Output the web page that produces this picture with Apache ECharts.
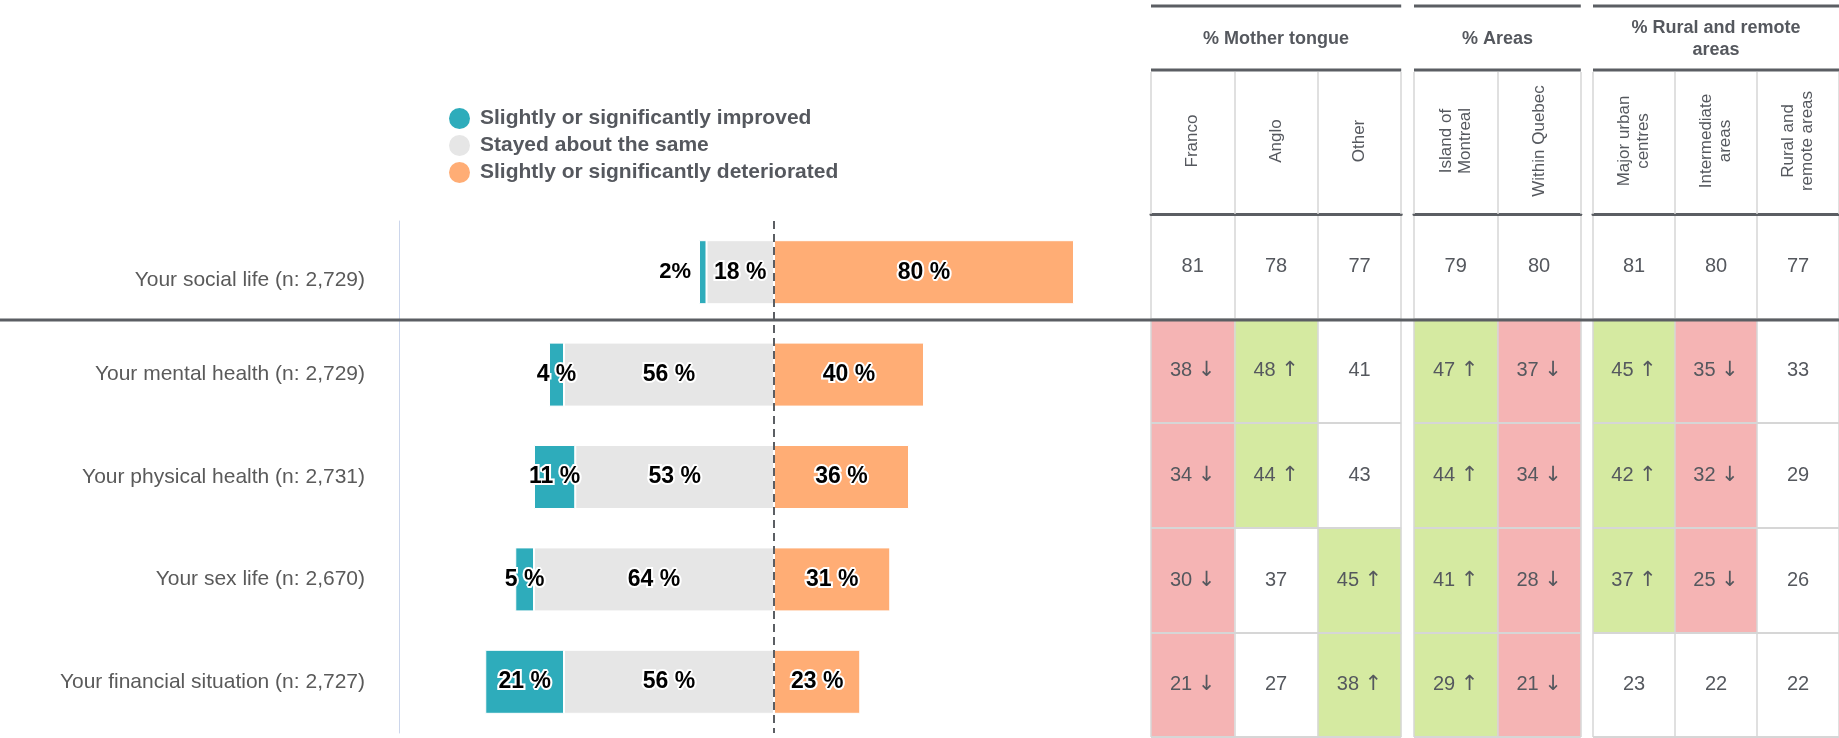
<!DOCTYPE html>
<html>
<head>
<meta charset="utf-8">
<title>Changes in social life, health and finances</title>
<script src="https://cdn.jsdelivr.net/npm/echarts@6/dist/echarts.min.js"></script>
<style>
  html, body { margin: 0; padding: 0; background: #fff; }
  #chart { width: 1839px; height: 738px; }
</style>
</head>
<body>
<div id="chart"></div>
<script>
// bar chart data (%)
const categories = [
  'Your social life (n: 2,729)',
  'Your mental health (n: 2,729)',
  'Your physical health (n: 2,731)',
  'Your sex life (n: 2,670)',
  'Your financial situation (n: 2,727)'
];
const improved = [2, 4, 11, 5, 21];
const same = [18, 56, 53, 64, 56];
const deteriorated = [80, 40, 36, 31, 23];

// table: deteriorated % by sub-group
const groupNames = ['% Mother tongue', '% Areas', '% Rural and remote\nareas'];
const groupCols = [
  ['Franco', 'Anglo', 'Other'],
  ['Island of\nMontreal', 'Within Quebec'],
  ['Major urban\ncentres', 'Intermediate\nareas', 'Rural and\nremote areas']
];
const rowSocial = [81, 78, 77, 79, 80, 81, 80, 77];
const rowMental = [38, 48, 41, 47, 37, 45, 35, 33];
const rowPhysical = [34, 44, 43, 44, 34, 42, 32, 29];
const rowSex = [30, 37, 45, 41, 28, 37, 25, 26];
const rowFinancial = [21, 27, 38, 29, 21, 23, 22, 22];
// 1 = significantly higher, -1 = significantly lower, 0 = no difference
const sigSocial = [0, 0, 0, 0, 0, 0, 0, 0];
const sigMental = [-1, 1, 0, 1, -1, 1, -1, 0];
const sigPhysical = [-1, 1, 0, 1, -1, 1, -1, 0];
const sigSex = [-1, 0, 1, 1, -1, 1, -1, 0];
const sigFinancial = [-1, 0, 1, 1, -1, 0, 0, 0];

const tableRows = [rowSocial, rowMental, rowPhysical, rowSex, rowFinancial];
const sigRows = [sigSocial, sigMental, sigPhysical, sigSex, sigFinancial];

const FONT = '"Liberation Sans", Arial, Helvetica, sans-serif';
const TEXT = '#55585e';
const DARK = '#5b5e63';
const LIGHT = '#d6d6d6';
const TEAL = '#2eacbb';
const GREY = '#e6e6e6';
const ORANGE = '#ffad75';
const RED_CELL = '#f5b4b4';
const GREEN_CELL = '#d5eaa1';

const groupLeft = [1151, 1414, 1593];
const colW = 83.4;

const chart = echarts.init(document.getElementById('chart'));

const barLabel = {
  show: true,
  position: 'inside',
  fontFamily: FONT,
  fontSize: 23,
  fontWeight: 'bold',
  color: '#000',
  textBorderColor: '#fff',
  textBorderWidth: 4,
  formatter: p => Math.abs(p.value) + ' %'
};
const barItem = c => ({ color: c, borderColor: '#fff', borderWidth: 1 });

const grids = [{ left: 399, top: 221, width: 750, height: 512 }];
const xAxes = [{ gridIndex: 0, type: 'value', min: -100, max: 100, show: false }];
const yAxes = [{
  gridIndex: 0,
  type: 'category',
  inverse: true,
  data: categories,
  axisLine: { onZero: false, lineStyle: { color: '#ccd6eb', width: 1 } },
  axisTick: { show: false },
  axisLabel: {
    margin: 34, fontSize: 21, color: '#5a5a5a', fontFamily: FONT,
    // the first label sits a little lower in the original
    formatter: (v, i) => i === 0 ? '{s|' + v + '}' : v,
    rich: { s: { fontSize: 21, color: '#5a5a5a', fontFamily: FONT, padding: [17, 0, 0, 0] } }
  }
}];

const series = [
  {
    name: 'Stayed about the same',
    type: 'bar',
    stack: 'total',
    barWidth: 64,
    data: same.map(v => -v),
    itemStyle: barItem(GREY),
    label: barLabel,
    markLine: {
      silent: true,
      symbol: 'none',
      label: { show: false },
      lineStyle: { color: DARK, width: 2, type: [8, 5] },
      data: [{ xAxis: 0 }]
    }
  },
  {
    name: 'Slightly or significantly improved',
    type: 'bar',
    stack: 'total',
    barWidth: 64,
    data: improved.map(v => v < 3
      ? { value: -v, label: { position: 'left', distance: 8, fontSize: 22, textBorderWidth: 0, formatter: p => Math.abs(p.value) + '%' } }
      : -v),
    itemStyle: barItem(TEAL),
    label: barLabel
  },
  {
    name: 'Slightly or significantly deteriorated',
    type: 'bar',
    stack: 'total',
    barWidth: 64,
    data: deteriorated,
    itemStyle: barItem(ORANGE),
    label: barLabel
  }
];

// table, one grid per group
let offset = 0;
groupNames.forEach((name, g) => {
  const cols = groupCols[g];
  const idx = g + 1;
  grids.push({ left: groupLeft[g], top: 214, width: cols.length * colW, height: 523 });
  xAxes.push({
    gridIndex: idx,
    type: 'category',
    position: 'top',
    data: cols,
    z: 5,
    name: name,
    nameLocation: 'middle',
    nameGap: 175,
    nameTextStyle: { fontFamily: FONT, fontSize: 18, fontWeight: 'bold', color: TEXT, lineHeight: 22, verticalAlign: 'middle' },
    axisLine: { lineStyle: { color: DARK, width: 3 } },
    axisTick: { show: true, interval: 0, length: 142, lineStyle: { color: LIGHT, width: 1.5 } },
    axisLabel: { interval: 0, rotate: -90, margin: 73, align: 'center', verticalAlign: 'middle', fontFamily: FONT, fontSize: 17, lineHeight: 19, color: TEXT },
    splitLine: { show: true, interval: 0, lineStyle: { color: LIGHT, width: 1.5 } }
  });
  yAxes.push({
    gridIndex: idx,
    type: 'category',
    inverse: true,
    data: categories,
    z: 5,
    axisLine: { show: false },
    axisTick: { show: false },
    axisLabel: { show: false },
    splitLine: { show: true, lineStyle: { color: LIGHT, width: 2 } }
  });
  const data = [];
  tableRows.forEach((row, r) => {
    cols.forEach((c, k) => {
      data.push([k, r, row[offset + k], sigRows[r][offset + k]]);
    });
  });
  series.push({
    type: 'custom',
    xAxisIndex: idx,
    yAxisIndex: idx,
    z: 2,
    silent: true,
    encode: { x: 0, y: 1 },
    data: data,
    renderItem: (params, api) => {
      const pt = api.coord([api.value(0), api.value(1)]);
      const size = api.size([1, 1]);
      const sig = api.value(3);
      const children = [];
      if (sig !== 0) {
        children.push({
          type: 'rect',
          shape: { x: pt[0] - size[0] / 2, y: pt[1] - size[1] / 2, width: size[0], height: size[1] },
          style: { fill: sig > 0 ? GREEN_CELL : RED_CELL }
        });
      }
      const arrow = sig > 0 ? ' {a|\u2191}' : sig < 0 ? ' {a|\u2193}' : '';
      children.push({
        type: 'text',
        style: {
          text: '{v|' + api.value(2) + '}' + arrow,
          x: pt[0], y: pt[1],
          align: 'center', verticalAlign: 'middle',
          fill: TEXT,
          font: '20px ' + FONT,
          rich: {
            v: { fontFamily: FONT, fontSize: 20, fill: TEXT, color: TEXT },
            a: { fontFamily: '"DejaVu Sans", sans-serif', fontSize: 21, fill: TEXT, color: TEXT }
          }
        }
      });
      return { type: 'group', children: children };
    }
  });
  offset += cols.length;
});

// header rules of the table and the full-width separator
const graphic = [];
groupNames.forEach((name, g) => {
  const x0 = groupLeft[g];
  const x1 = x0 + groupCols[g].length * colW;
  graphic.push({ type: 'line', z: 10, shape: { x1: x0, y1: 6, x2: x1, y2: 6 }, style: { stroke: DARK, lineWidth: 3 } });
  graphic.push({ type: 'line', z: 10, shape: { x1: x0, y1: 70, x2: x1, y2: 70 }, style: { stroke: DARK, lineWidth: 3 } });
});
graphic.push({ type: 'line', z: 100, shape: { x1: 0, y1: 320, x2: 1839, y2: 320 }, style: { stroke: DARK, lineWidth: 3 } });

chart.setOption({
  animation: false,
  textStyle: { fontFamily: FONT },
  legend: {
    data: ['Slightly or significantly improved', 'Stayed about the same', 'Slightly or significantly deteriorated'],
    orient: 'vertical',
    left: 449,
    top: 108,
    padding: 0,
    icon: 'circle',
    itemWidth: 21,
    itemHeight: 21,
    itemGap: 6,
    itemStyle: { borderWidth: 0 },
    textStyle: { fontFamily: FONT, fontSize: 21, fontWeight: 'bold', color: TEXT, padding: [0, 0, 0, 5] }
  },
  grid: grids,
  xAxis: xAxes,
  yAxis: yAxes,
  series: series,
  graphic: graphic
});
</script>
</body>
</html>
